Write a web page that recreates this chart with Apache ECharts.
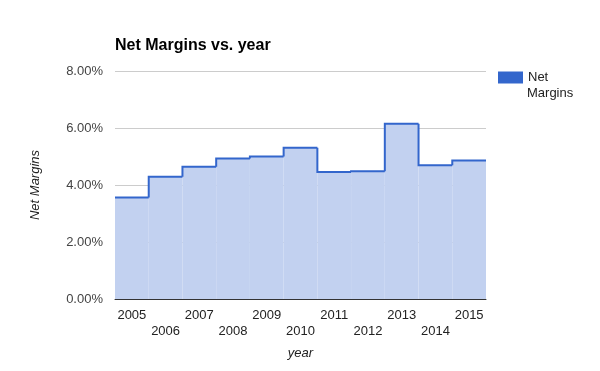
<!DOCTYPE html>
<html><head><meta charset="utf-8">
<script src="https://cdn.jsdelivr.net/npm/echarts@6/dist/echarts.min.js"></script>
<style>html,body{margin:0;padding:0;background:#fff}#c{width:600px;height:371px}</style>
</head><body><div id="c"></div>
<script>
var years = ['2005','2006','2007','2008','2009','2010','2011','2012','2013','2014','2015'];
var netMargins = [3.56, 4.29, 4.64, 4.93, 5.00, 5.31, 4.46, 4.48, 6.15, 4.69, 4.86];
var yTicks = [0, 2, 4, 6, 8];

var chart = echarts.init(document.getElementById('c'));
var font = 'Arial, "Liberation Sans", sans-serif';

function renderStep(params, api) {
  var i = params.dataIndex;
  var v = api.value(1);
  var prev = i > 0 ? netMargins[i - 1] : v;
  var p0 = api.coord([i, 0]);
  var pTopL = api.coord([i, v]);
  var pTopR = api.coord([i + 1, v]);
  var pPrev = api.coord([i, prev]);
  return {
    type: 'group',
    children: [
      {type: 'rect', z2: 1,
        shape: {x: p0[0], y: pTopL[1], width: pTopR[0] - pTopL[0], height: p0[1] - pTopL[1]},
        style: {fill: '#c2d1f0'}},
      {type: 'polyline', z2: 10,
        shape: {points: [pPrev, pTopL, pTopR]},
        style: {stroke: '#3366cc', lineWidth: 2, fill: null}}
    ]
  };
}

chart.setOption({
  animation: false,
  textStyle: {fontFamily: font},
  title: {text: 'Net Margins vs. year', left: 110, top: 33,
    textStyle: {fontFamily: font, fontSize: 16, fontWeight: 'bold', color: '#000'}},
  legend: {orient: 'vertical', left: 498, top: 71, padding: 0, itemWidth: 25, itemHeight: 12,
    icon: 'rect',
    formatter: function(){ return 'Net'; },
    textStyle: {fontFamily: font, fontSize: 13, color: '#222'},
    data: [{name: 'Net Margins', itemStyle: {color: '#3366cc', opacity: 1}}]},
  graphic: [{type: 'text', left: 527, top: 87,
    style: {text: 'Margins', font: '13px Arial, "Liberation Sans", sans-serif', fill: '#222'}}],
  grid: {left: 115, right: 114, top: 71, bottom: 72, containLabel: false},
  xAxis: [
    {type: 'value', min: 0, max: years.length, show: false},
    {type: 'category', data: years, boundaryGap: true, position: 'bottom',
      name: 'year', nameLocation: 'middle', nameGap: 48,
      nameTextStyle: {fontFamily: font, fontSize: 13, fontStyle: 'italic', color: '#222'},
      axisLine: {lineStyle: {color: '#333', width: 1}},
      axisTick: {show: false},
      axisLabel: {interval: 0, fontFamily: font, fontSize: 13, color: '#222', margin: 8, lineHeight: 16,
        formatter: function(v, i){ return i % 2 === 1 ? '\n' + v : v; }},
      splitLine: {show: false}}
  ],
  yAxis: {type: 'value', min: yTicks[0], max: yTicks[yTicks.length - 1], interval: 2,
    name: 'Net Margins', nameLocation: 'middle', nameGap: 73, nameRotate: 90,
    nameTextStyle: {fontFamily: font, fontSize: 13, fontStyle: 'italic', color: '#222'},
    axisLine: {show: false}, axisTick: {show: false},
    axisLabel: {fontFamily: font, fontSize: 13, color: '#444', margin: 12,
      formatter: function(v){ return v.toFixed(2) + '%'; }},
    splitLine: {lineStyle: {color: '#cccccc', width: 1}}},
  series: [{
    name: 'Net Margins', type: 'custom', xAxisIndex: 0,
    renderItem: renderStep,
    itemStyle: {color: '#3366cc'},
    encode: {x: 0, y: 1},
    data: netMargins.map(function(v, i){ return [i, v]; })
  }]
});
</script></body></html>
